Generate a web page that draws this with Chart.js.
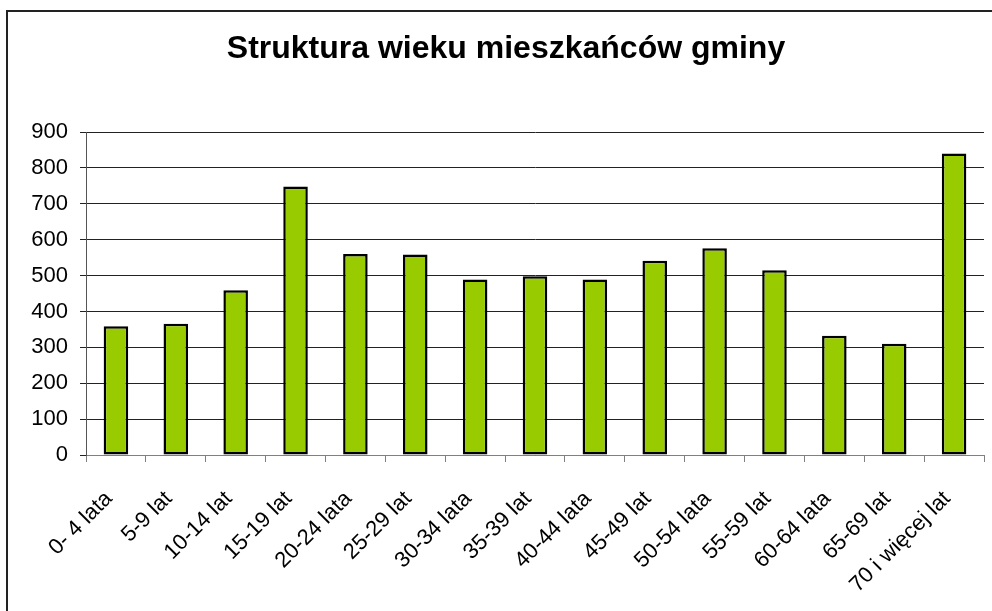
<!DOCTYPE html>
<html>
<head>
<meta charset="utf-8">
<script src="https://cdn.jsdelivr.net/npm/chart.js@4"></script>
<style>
  html, body { margin: 0; padding: 0; background: #fff; }
  #wrap { position: relative; width: 992px; height: 611px; }
</style>
</head>
<body>
<div id="wrap"><canvas id="c" width="992" height="611"></canvas></div>
<script>
const chartTitle = 'Struktura wieku mieszkańców gminy';
const categories = ['0- 4 lata', '5-9 lat', '10-14 lat', '15-19 lat', '20-24 lata', '25-29 lat', '30-34 lata', '35-39 lat', '40-44 lata', '45-49 lat', '50-54 lata', '55-59 lat', '60-64 lata', '65-69 lat', '70 i więcej lat'];
const residents = [359, 366, 459, 748, 560, 559, 489, 498, 489, 541, 576, 515, 332, 310, 840];
const yTicks = [0, 100, 200, 300, 400, 500, 600, 700, 800, 900];

const framePlugin = {
  id: 'frame',
  afterDraw(chart) {
    const ctx = chart.ctx;
    ctx.save();
    ctx.strokeStyle = '#222';
    ctx.lineWidth = 2;
    ctx.beginPath();
    ctx.moveTo(7, 611);
    ctx.lineTo(7, 11);
    ctx.lineTo(992, 11);
    ctx.stroke();
    ctx.restore();
  }
};

new Chart(document.getElementById('c'), {
  type: 'bar',
  data: {
    labels: categories,
    datasets: [{
      data: residents,
      backgroundColor: '#99CC00',
      borderColor: '#000',
      borderWidth: 2.5,
      borderSkipped: false,
      barPercentage: 0.41,
      categoryPercentage: 1.0
    }]
  },
  options: {
    responsive: false,
    animation: false,
    devicePixelRatio: 1,
    layout: { padding: { left: 28, right: 8, top: 0, bottom: 0 } },
    plugins: {
      legend: { display: false },
      tooltip: { enabled: false },
      title: {
        display: true,
        text: chartTitle,
        color: '#000',
        font: { family: 'Arial, "Liberation Sans", sans-serif', size: 32, weight: 'bold', lineHeight: 1.2 },
        padding: { top: 30, bottom: 63.6 }
      }
    },
    scales: {
      x: {
        offset: true,
        grid: {
          offset: true,
          drawOnChartArea: false,
          drawTicks: true,
          tickLength: 7,
          color: '#808080',
          lineWidth: 1
        },
        border: { display: true, color: '#808080', width: 1 },
        ticks: {
          color: '#000',
          font: { family: 'Arial, "Liberation Sans", sans-serif', size: 22 },
          minRotation: 45,
          maxRotation: 45,
          autoSkip: false,
          padding: 24,
          labelOffset: -7
        },
        afterFit(scale) {
          scale.height = 156;
          scale.paddingLeft = 0;
          scale.paddingRight = 0;
        }
      },
      y: {
        min: 0,
        max: 900,
        afterBuildTicks(scale) { scale.ticks = yTicks.map(v => ({ value: v })); },
        grid: {
          color: '#222',
          lineWidth: 1,
          drawTicks: true,
          tickLength: 6
        },
        border: { display: true, color: '#555', width: 1 },
        ticks: {
          color: '#000',
          font: { family: 'Arial, "Liberation Sans", sans-serif', size: 22 },
          padding: 12
        },
        afterFit(scale) { scale.width = 58; }
      }
    }
  },
  plugins: [framePlugin]
});
</script>
</body>
</html>
